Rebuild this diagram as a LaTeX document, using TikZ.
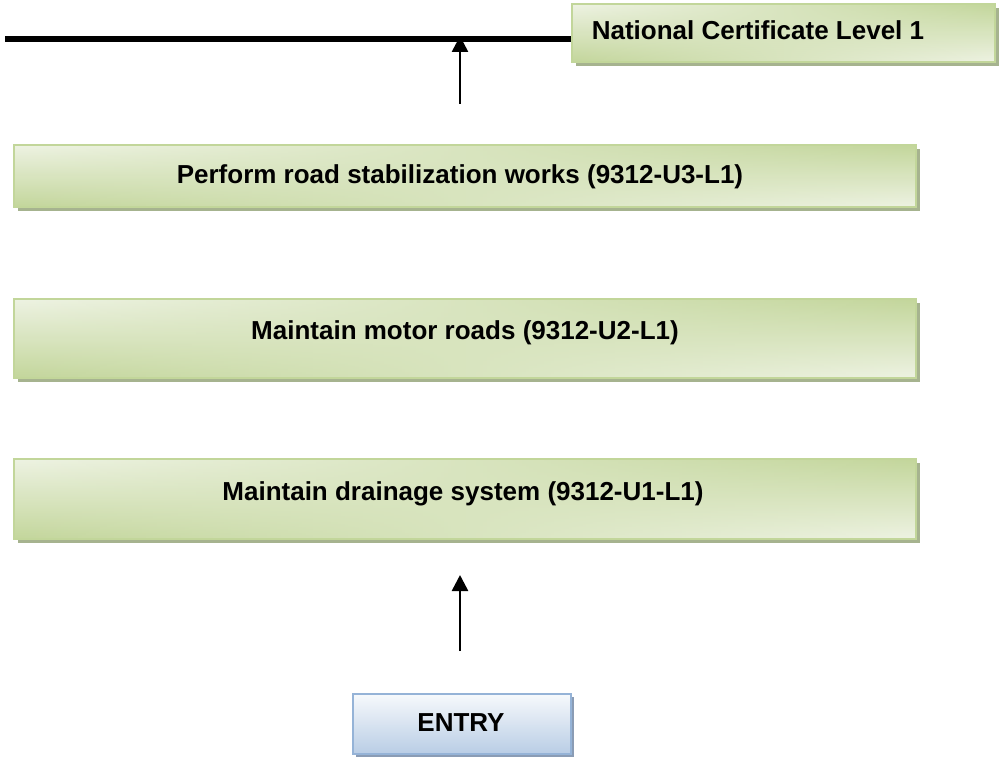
\documentclass[tikz,border=0pt]{standalone}
\usepackage{fontspec}
\setmainfont{Liberation Sans}
\usetikzlibrary{arrows.meta,fadings}
\definecolor{gdark}{HTML}{C3D69B}
\definecolor{glight}{HTML}{EEF3E3}
\definecolor{gborder}{HTML}{C2D69A}
\definecolor{gshadow}{HTML}{A6B38F}
\definecolor{bdark}{HTML}{B9CDE5}
\definecolor{blight}{HTML}{F6F9FC}
\definecolor{bborder}{HTML}{95B3D7}
\definecolor{bshadow}{HTML}{8A9CB5}
\tikzfading[name=fadeleft, left color=transparent!100, right color=transparent!0]
\begin{document}
\begin{tikzpicture}[x=1pt,y=-1pt,
  txt/.style={font=\fontsize{26}{30}\selectfont\bfseries, inner sep=0pt, anchor=base},
  gbox/.style={draw=gborder, line width=1.5pt, inner sep=0pt,
    preaction={fill=gshadow, transform canvas={xshift=4pt,yshift=-4pt}},
    preaction={top color=glight, bottom color=gdark},
    preaction={top color=gdark, bottom color=glight, path fading=fadeleft}},
  bbox/.style={draw=bborder, line width=1.5pt, inner sep=0pt,
    preaction={fill=bshadow, transform canvas={xshift=3pt,yshift=-3pt}},
    preaction={top color=blight, bottom color=bdark}},
  arr/.style={line width=2.6pt, -{Triangle[width=16pt,length=16pt]}}]
\useasboundingbox (0,0) rectangle (1000,757);

% National Certificate box
\node[gbox, minimum width=423pt, minimum height=58pt] (nc) at (783.5,33) {};
\node[txt] (nct) at (758,39.5) {National Certificate Level 1};

% units
\node[gbox, minimum width=902pt, minimum height=62pt] (u3) at (465,176) {};
\node[txt] (u3t) at (460,183.5) {Perform road stabilization works (9312-U3-L1)};

\node[gbox, minimum width=902pt, minimum height=79pt] (u2) at (465,338.5) {};
\node[txt] (u2t) at (465,339.5) {Maintain motor roads (9312-U2-L1)};

\node[gbox, minimum width=902pt, minimum height=80pt] (u1) at (465,499) {};
\node[txt] (u1t) at (463,500.5) {Maintain drainage system (9312-U1-L1)};

% entry
\node[bbox, minimum width=218pt, minimum height=60pt] (entry) at (462,724) {};
\node[txt] (entryt) at (461,731) {ENTRY};

% top line and arrows
\coordinate (ls) at (5,39);
\coordinate (le) at (nc.west |- ls);
\draw[line width=5.5pt] (ls) -- (le);
\coordinate (a1s) at (460,104);
\coordinate (a1e) at (460,36);
\draw[arr] (a1s) -- (a1e);
\coordinate (a2s) at (460,651);
\coordinate (a2e) at (460,575);
\draw[arr] (a2s) -- (a2e);
\end{tikzpicture}
\end{document}
